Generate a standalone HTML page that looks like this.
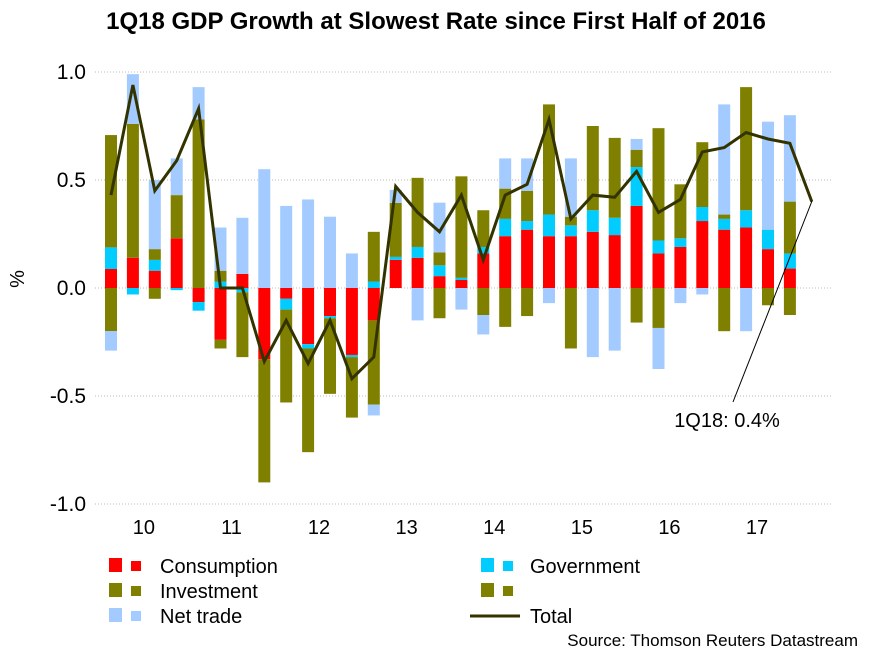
<!DOCTYPE html>
<html><head><meta charset="utf-8"><style>
html,body{margin:0;padding:0;background:#fff;}
svg{display:block;font-family:"Liberation Sans",Arial,sans-serif;}
</style></head><body>
<svg id="chart" width="872" height="654" viewBox="0 0 872 654">
<text x="436" y="29" text-anchor="middle" font-size="24" font-weight="bold" fill="#000">1Q18 GDP Growth at Slowest Rate since First Half of 2016</text>
<text x="24" y="279" text-anchor="middle" font-size="20" fill="#000" transform="rotate(-90 24 279)">%</text>
<g id="grid"></g>
<g id="yticks"></g>
<g id="xticks"></g>
<g id="bars"></g>
<g id="line"></g>
<line x1="812" y1="201" x2="733" y2="402" stroke="#000" stroke-width="1"/>
<text x="727" y="427" text-anchor="middle" font-size="20" fill="#000">1Q18: 0.4%</text>
<g>
 <g><rect x="109" y="558" width="13" height="14" fill="#ff0000"/><rect x="131" y="561" width="10" height="10" fill="#ff0000"/><text x="160" y="573" font-size="20">Consumption</text></g>
 <g><rect x="109" y="583" width="13" height="14" fill="#808000"/><rect x="131" y="586" width="10" height="10" fill="#808000"/><text x="160" y="598" font-size="20">Investment</text></g>
 <g><rect x="109" y="608" width="13" height="14" fill="#a3cbff"/><rect x="131" y="611" width="10" height="10" fill="#a3cbff"/><text x="160" y="623" font-size="20">Net trade</text></g>
 <g><rect x="481" y="558" width="13" height="14" fill="#00ccff"/><rect x="503" y="561" width="10" height="10" fill="#00ccff"/><text x="530" y="573" font-size="20">Government</text></g>
 <g><rect x="481" y="583" width="13" height="14" fill="#808000"/><rect x="503" y="586" width="10" height="10" fill="#808000"/></g>
 <g><line x1="470" y1="616" x2="520" y2="616" stroke="#333300" stroke-width="3"/><text x="530" y="623" font-size="20">Total</text></g>
</g>
<text x="858" y="646" text-anchor="end" font-size="17" fill="#000">Source: Thomson Reuters Datastream</text>
</svg>
<script>
const years = ["10","11","12","13","14","15","16","17"];
const yTicks = [1.0,0.5,0.0,-0.5,-1.0];
const yTickLabels = ["1.0","0.5","0.0","-0.5","-1.0"];
const consumption = [.088,.14,.08,.23,-.065,-.24,.065,-.33,-.05,-.26,-.13,-.31,-.15,.13,.14,.055,.037,.16,.24,.27,.24,.24,.26,.245,.38,.16,.19,.31,.27,.28,.18,.09];
const government = [.10,-.03,.05,-.01,-.04,.03,-.02,0,-.05,-.02,-.01,-.01,.03,.014,.05,.05,.01,.03,.08,.04,.10,.05,.10,.08,.18,.06,.04,.065,.05,.08,.09,.07];
const investment = [.52,.62,.05,.20,.78,.05,0,0,0,0,0,0,.23,.25,.32,.06,.47,.17,.14,.14,.51,.04,.39,.37,.08,.52,.25,.30,.02,.57,0,.24];
const otherOlive = [-.20,0,-.05,0,0,-.04,-.30,-.57,-.43,-.48,-.35,-.28,-.39,0,0,-.14,0,-.125,-.18,-.13,0,-.28,0,0,-.16,-.185,0,0,-.20,0,-.08,-.125];
const netTrade = [-.09,.23,.32,.17,.15,.20,.26,.55,.38,.41,.33,.16,-.05,.06,-.15,.23,-.10,-.09,.14,.15,-.07,.27,-.32,-.29,.05,-.19,-.07,-.03,.51,-.20,.50,.40];
const total = [.43,.94,.45,.59,.83,0,0,-.34,-.15,-.35,-.15,-.42,-.32,.47,.35,.26,.43,.13,.43,.48,.78,.32,.43,.42,.54,.35,.41,.63,.65,.72,.69,.67,.40];

const NS="http://www.w3.org/2000/svg";
const y0=288, unit=216, x0=111, step=21.9, bw=12;
const yScale=v=>y0-v*unit;
const xScale=i=>x0+i*step;
function mk(tag,attrs,parent){const e=document.createElementNS(NS,tag);for(const k in attrs)e.setAttribute(k,attrs[k]);parent.appendChild(e);return e;}
const grid=document.getElementById('grid'), yt=document.getElementById('yticks'), xt=document.getElementById('xticks');
yTicks.forEach((v,i)=>{
  const l=mk('line',{x1:95,x2:832,y1:yScale(v),y2:yScale(v),stroke:'#b8b8b8','stroke-width':1,'stroke-dasharray':'1,2'},grid);
  
  
  const t=mk('text',{x:86,y:yScale(v)+7,'text-anchor':'end','font-size':21},yt);
  t.textContent=yTickLabels[i];
  
  
});
years.forEach((yr,i)=>{
  const t=mk('text',{x:(xScale(i*4)+xScale(i*4+3))/2,y:534,'text-anchor':'middle','font-size':20},xt);
  t.textContent=yr;
  
  
});
const series=[[consumption,'#ff0000','consumption'],[government,'#00ccff','government'],[investment,'#808000','investment'],[otherOlive,'#808000','other'],[netTrade,'#a3cbff','net-trade']];
const bars=document.getElementById('bars');
for(let i=0;i<consumption.length;i++){
  let pos=0,neg=0;
  series.forEach(([arr,col,nm])=>{
    const v=arr[i]; if(!v) return;
    let a,b;
    if(v>0){a=pos;b=pos+v;pos=b;}else{a=neg;b=neg+v;neg=b;}
    const yA=yScale(a), yB=yScale(b);
    const r=mk('rect',{x:xScale(i)-bw/2,y:Math.min(yA,yB),width:bw,height:Math.abs(yA-yB),fill:col},bars);
    
    
  });
}
const pts=total.map((v,i)=>xScale(i).toFixed(1)+','+yScale(v).toFixed(1)).join(' ');
const pl=mk('polyline',{points:pts,fill:'none',stroke:'#333300','stroke-width':3,'stroke-linejoin':'miter'},document.getElementById('line'));


</script>
</body></html>
